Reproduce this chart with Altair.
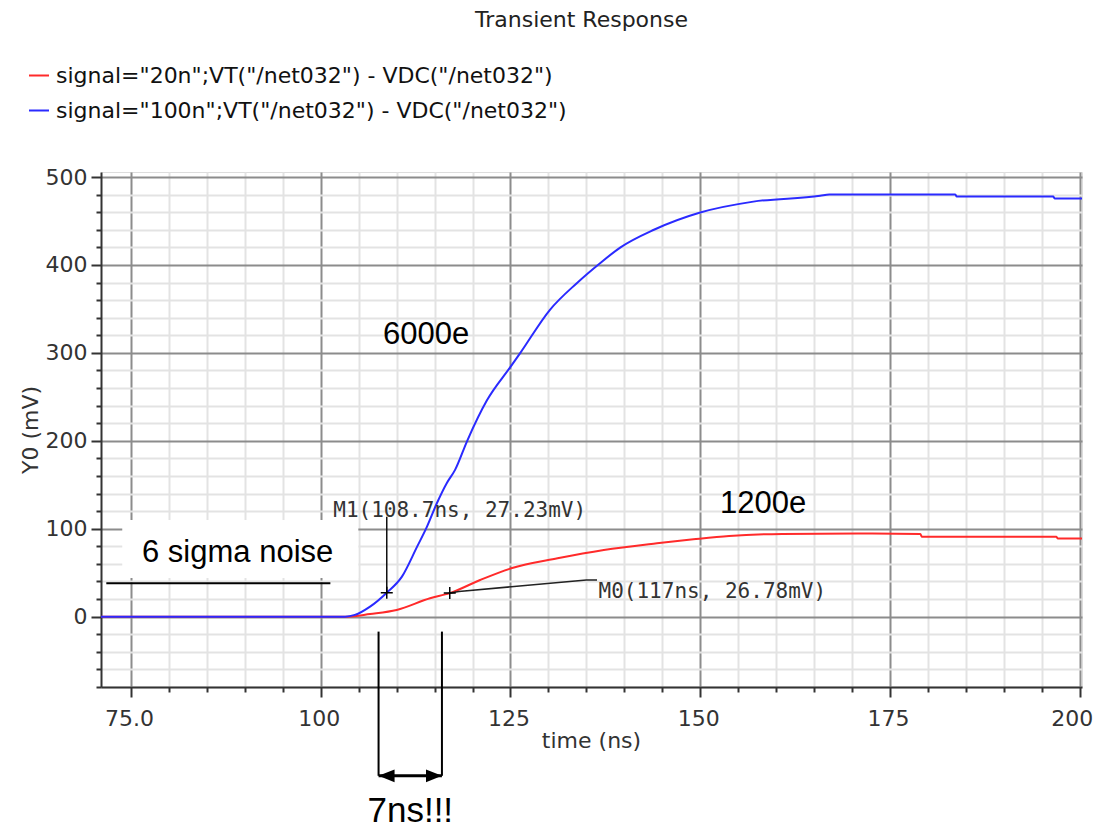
import altair as alt
import pandas as pd

# ---------------- data ----------------
blue_t = [70.0, 103.2, 104.5, 106.5, 108.7, 110.7, 112.7, 114.0, 115.3, 116.6, 117.7, 119.3,
          121.9, 125.0, 126.3, 130.2, 133.7, 136.8, 139.5, 143.9, 150.0, 157.0, 165.8, 167.0,
          183.6, 183.8, 196.5, 196.7, 201.0]
blue_v = [0.0, 0.0, 2.0, 11.4, 27.23, 45.5, 79.6, 102.4, 129.0, 151.8, 166.9, 200.0,
          246.0, 284.0, 300.0, 349.0, 379.0, 402.0, 420.0, 440.0, 459.6, 472.0, 478.6, 480.2,
          480.2, 477.7, 477.7, 475.6, 475.6]

red_t = [70.0, 103.5, 106.5, 110.0, 114.4, 117.0, 121.0, 125.1, 131.2, 137.3, 144.3, 149.1,
         153.8, 160.8, 170.7, 179.0, 179.2, 196.9, 197.1, 201.0]
red_v = [0.0, 0.0, 3.0, 7.6, 20.9, 26.78, 41.7, 55.0, 66.4, 75.9, 83.5, 88.0,
         91.8, 94.1, 94.5, 94.0, 91.0, 91.0, 89.0, 89.0]

L_RED = 'signal="20n";VT("/net032") -  VDC("/net032")'
L_BLUE = 'signal="100n";VT("/net032") -  VDC("/net032")'
series_names = [L_RED, L_BLUE]
series_colors = ["#ff2a2a", "#2a2aff"]

x_domain = [71.05, 200.3]
y_domain = [-80.0, 505.7]
x_ticks = list(range(75, 201, 5))
y_ticks = list(range(-80, 501, 20))

# markers
m1 = (108.7, 27.23)
m0 = (117.0, 26.78)
m1_label = "M1(108.7ns, 27.23mV)"
m0_label = "M0(117ns, 26.78mV)"
m1_stem_top = 113.5
m0_link_t = [117.0, 118.2, 125.1, 135.0, 136.4]
m0_link_v = [26.78, 28.5, 34.0, 41.7, 41.7]

# annotations
noise_box = (73.85, 104.95, 44.0, 110.0)
noise_line = (71.75, 101.27, 38.0)
big_text = ["6000e", "1200e", "6 sigma noise"]
big_text_t = [108.2, 152.6, 76.45]
big_text_v = [310.2, 117.6, 62.6]
span_t = [107.62, 115.97]
span_top, span_arrow = -17.0, -181.0
span_text = "7ns!!!"
span_text_pos = (111.8, -233.2)

# ---------------- frames ----------------
curves = pd.concat([
    pd.DataFrame({"t": red_t, "v": red_v, "series": L_RED, "k": 0}),
    pd.DataFrame({"t": blue_t, "v": blue_v, "series": L_BLUE, "k": 1}),
])

xs = alt.Scale(domain=x_domain, nice=False, zero=False)
ys = alt.Scale(domain=y_domain, nice=False, zero=False)

FONT = "DejaVu Sans"
x_axis = alt.Axis(
    values=x_ticks, tickCount=500,
    labelExpr="datum.value === 75 ? '75.0' : (datum.value % 25 === 0 ? format(datum.value, 'd') : '')",
    grid=True,
    gridColor={"condition": {"test": "datum.value % 25 === 0", "value": "#8c8c8c"}, "value": "#e3e3e3"},
    gridWidth=2,
    tickSize={"condition": {"test": "datum.value % 25 === 0", "value": 10}, "value": 5},
    tickColor="#333", tickWidth=2, domainColor="#333", domainWidth=2,
    labelFont=FONT, labelFontSize=22, labelColor="#333", labelPadding=28.5,
    labelOffset={"condition": {"test": "datum.value === 200", "value": -8}, "value": -2},
    labelBaseline="alphabetic", labelOverlap=False, labelFlush=False, labelBound=False,
    title="time (ns)", titleFont=FONT, titleFontSize=22, titleFontWeight="normal",
    titleColor="#333", titleX=490, titleY=60, titleBaseline="alphabetic",
)
y_axis = alt.Axis(
    values=y_ticks, tickCount=500,
    labelExpr="datum.value % 100 === 0 ? format(datum.value, 'd') : ''",
    grid=True,
    gridColor={"condition": {"test": "datum.value % 100 === 0", "value": "#8c8c8c"}, "value": "#e3e3e3"},
    gridWidth=2,
    tickSize={"condition": {"test": "datum.value % 100 === 0", "value": 10}, "value": 5},
    tickColor="#333", tickWidth=2, domainColor="#333", domainWidth=2,
    labelFont=FONT, labelFontSize=22, labelColor="#333", labelPadding=4,
    labelOverlap=False, labelFlush=False, labelBound=False,
    title="Y0 (mV)", titleFont=FONT, titleFontSize=22, titleFontWeight="normal",
    titleColor="#333", titleX=-64, titleY=257.5, titleAngle=270,
    titleBaseline="alphabetic", titleAlign="center",
)

color = alt.Color(
    "series:N",
    scale=alt.Scale(domain=series_names, range=series_colors),
    legend=alt.Legend(
        orient="none", legendX=-73, legendY=-107.5, title=None,
        symbolType="stroke", symbolSize=400, symbolStrokeWidth=2,
        labelFont=FONT, labelFontSize=22, labelColor="#111", labelLimit=0,
        labelOffset=6, rowPadding=13, padding=0,
    ),
)

base = alt.Chart(curves)

box_df = pd.DataFrame({"t": [noise_box[0]], "t2": [noise_box[1]], "v": [noise_box[2]], "v2": [noise_box[3]]})
box = alt.Chart(box_df).mark_rect(fill="white", stroke=None).encode(
    x=alt.X("t:Q", scale=xs, axis=x_axis), x2="t2", y=alt.Y("v:Q", scale=ys, axis=y_axis), y2="v2")

nl_df = pd.DataFrame({"t": [noise_line[0]], "t2": [noise_line[1]], "v": [noise_line[2]]})
nline = alt.Chart(nl_df).mark_rule(color="black", strokeWidth=2).encode(
    x=alt.X("t:Q", scale=xs), x2="t2", y=alt.Y("v:Q", scale=ys))

red = base.transform_filter("datum.k === 0").mark_line(
    strokeWidth=2, clip=True, interpolate="monotone").encode(
    x=alt.X("t:Q", scale=xs), y=alt.Y("v:Q", scale=ys), color=color)
blue = base.transform_filter("datum.k === 1").mark_line(
    strokeWidth=2, clip=True, interpolate="monotone").encode(
    x=alt.X("t:Q", scale=xs), y=alt.Y("v:Q", scale=ys), color=color)

stem_df = pd.DataFrame({"t": [m1[0]], "v": [m1[1]], "v2": [m1_stem_top]})
stem = alt.Chart(stem_df).mark_rule(color="#111", strokeWidth=1.5).encode(
    x=alt.X("t:Q", scale=xs), y=alt.Y("v:Q", scale=ys), y2="v2")

link_df = pd.DataFrame({"t": m0_link_t, "v": m0_link_v})
link = alt.Chart(link_df).mark_line(color="#222", strokeWidth=1.5).encode(
    x=alt.X("t:Q", scale=xs), y=alt.Y("v:Q", scale=ys))

mk_df = pd.DataFrame({"t": [m1[0], m0[0]], "v": [m1[1], m0[1]]})
marks = alt.Chart(mk_df).mark_point(shape="M-1,0L1,0M0,-1L0,1", filled=False, stroke="black",
                                    strokeWidth=1.5, size=144, opacity=1).encode(
    x=alt.X("t:Q", scale=xs), y=alt.Y("v:Q", scale=ys))

lab_df = pd.DataFrame({"t": [101.65, 136.6], "v": [113.4, 21.3], "s": [m1_label, m0_label]})
labs = alt.Chart(lab_df).mark_text(font="DejaVu Sans Mono", fontSize=21, color="#333",
                                   align="left", baseline="alphabetic").encode(
    x=alt.X("t:Q", scale=xs), y=alt.Y("v:Q", scale=ys), text="s:N")

bt_df = pd.DataFrame({"t": big_text_t, "v": big_text_v, "s": big_text})
bigt = alt.Chart(bt_df).mark_text(font="Liberation Sans", fontSize=31, color="black",
                                  align="left", baseline="alphabetic").encode(
    x=alt.X("t:Q", scale=xs), y=alt.Y("v:Q", scale=ys), text="s:N")

sp_df = pd.DataFrame({"t": span_t, "v": [span_top, span_top], "v2": [span_arrow, span_arrow]})
span_lines = alt.Chart(sp_df).mark_rule(color="black", strokeWidth=2).encode(
    x=alt.X("t:Q", scale=xs), y=alt.Y("v:Q", scale=ys), y2="v2")

ar_df = pd.DataFrame({"t": [span_t[0]], "t2": [span_t[1]], "v": [span_arrow]})
arrow = alt.Chart(ar_df).mark_rule(color="black", strokeWidth=3).encode(
    x=alt.X("t:Q", scale=xs), x2="t2", y=alt.Y("v:Q", scale=ys))

head_l = alt.Chart(pd.DataFrame({"t": [span_t[0] + 1.05], "v": [span_arrow]})).mark_point(
    shape="M-1,0L1,-0.8L1,0.8Z", filled=True, color="black", size=256, opacity=1).encode(
    x=alt.X("t:Q", scale=xs), y=alt.Y("v:Q", scale=ys))
head_r = alt.Chart(pd.DataFrame({"t": [span_t[1] - 1.05], "v": [span_arrow]})).mark_point(
    shape="M1,0L-1,-0.8L-1,0.8Z", filled=True, color="black", size=256, opacity=1).encode(
    x=alt.X("t:Q", scale=xs), y=alt.Y("v:Q", scale=ys))

st_df = pd.DataFrame({"t": [span_text_pos[0]], "v": [span_text_pos[1]], "s": [span_text]})
stext = alt.Chart(st_df).mark_text(font="Liberation Sans", fontSize=35, color="black",
                                   align="center", baseline="alphabetic").encode(
    x=alt.X("t:Q", scale=xs), y=alt.Y("v:Q", scale=ys), text="s:N")

chart = alt.layer(
    box, nline, red, blue, stem, link, marks, labs, bigt, span_lines, arrow, head_l, head_r, stext
).properties(
    width=981, height=515,
    padding={"left": 101, "top": 172, "right": 23, "bottom": 141},
    autosize=alt.AutoSizeParams(type="none"),
    title=alt.TitleParams("Transient Response", anchor="middle", frame="group", fontSize=22,
                          font=FONT, fontWeight="normal", color="#222", offset=15.5, dx=-10,
                          baseline="alphabetic"),
).configure_view(stroke="#333", strokeWidth=2).configure(background="white")

chart.save("out.html", embed_options={"renderer": "svg", "actions": False})
